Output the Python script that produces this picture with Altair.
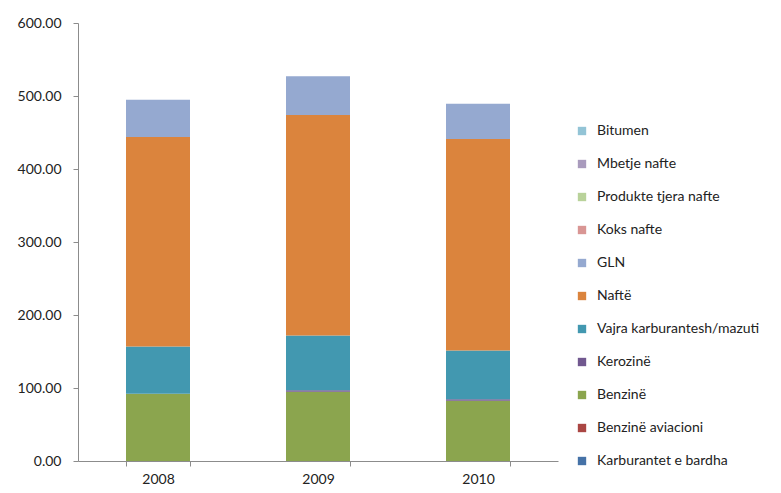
import altair as alt
import pandas as pd

years = ["2008", "2009", "2010"]
series = ["Karburantet e bardha", "Benzinë aviacioni", "Benzinë", "Kerozinë",
          "Vajra karburantesh/mazuti", "Naftë", "GLN", "Koks nafte",
          "Produkte tjera nafte", "Mbetje nafte", "Bitumen"]
colors = ["#4572A7", "#AA4643", "#8BA54E", "#71588F", "#4298B0", "#DB843D",
          "#95A9D0", "#D99694", "#B9D29A", "#A99BBD", "#93C4D6"]

karburantet = [0, 0, 0]
benzine_av = [0, 0, 0]
benzine = [92, 95, 82.5]
kerozine = [0, 2, 2]
vajra = [65, 75, 67]
nafte = [287, 302, 289.5]
gln = [51, 53, 48.5]
koks = [0, 0, 0]
produkte = [0, 0, 0]
mbetje = [0, 0, 0]
bitumen = [0, 0, 0]

values = [karburantet, benzine_av, benzine, kerozine, vajra, nafte, gln,
          koks, produkte, mbetje, bitumen]

rows = []
for i, (s, vals) in enumerate(zip(series, values)):
    for y, v in zip(years, vals):
        rows.append({"year": y, "series": s, "value": v, "order": i})
df = pd.DataFrame(rows)

legend_order = series[::-1]
legend_colors = colors[::-1]

font = "Lato"
fs = 14

chart = alt.Chart(df).mark_bar().encode(
    x=alt.X("year:N", title=None,
            scale=alt.Scale(paddingInner=0.6, paddingOuter=0.3),
            axis=alt.Axis(labelAngle=0, tickBand="extent", domainColor="#8c8c8c",
                          tickColor="#8c8c8c", tickSize=5, labelFontSize=fs,
                          labelColor="#222", labelFont=font, labelPadding=6, grid=False)),
    y=alt.Y("value:Q", title=None, stack="zero",
            scale=alt.Scale(domain=[0, 600], nice=False),
            axis=alt.Axis(values=[0, 100, 200, 300, 400, 500, 600], format=".2f",
                          grid=False, domainColor="#8c8c8c", tickColor="#8c8c8c",
                          tickSize=5, labelFontSize=fs, labelColor="#222",
                          labelFont=font, labelPadding=12)),
    color=alt.Color("series:N", scale=alt.Scale(domain=legend_order, range=legend_colors),
                    sort=legend_order,
                    legend=alt.Legend(title=None, orient="none", legendX=497, legendY=101,
                                      symbolType="square", symbolSize=70,
                                      symbolStrokeWidth=0, labelFontSize=fs,
                                      labelFont=font, labelColor="#222", labelLimit=0,
                                      rowPadding=19, labelOffset=8)),
    order=alt.Order("order:Q", sort="ascending"),
).properties(
    width=480, height=438,
    autosize=alt.AutoSizeParams(type="none"),
    padding={"left": 70, "top": 15, "right": 215, "bottom": 32},
).configure_view(stroke=None)

chart.save("out.html", embed_options={"renderer": "svg", "actions": False})
